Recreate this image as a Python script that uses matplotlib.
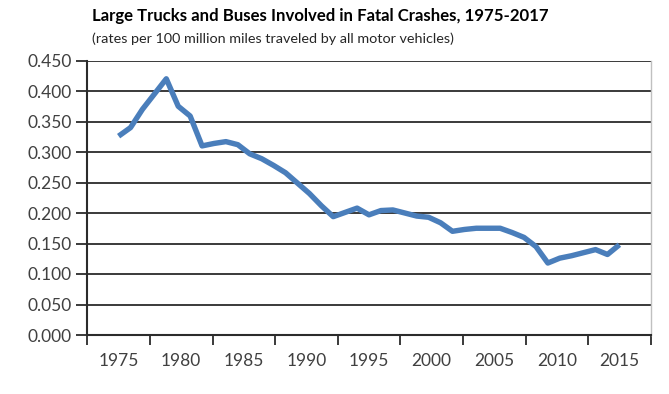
import matplotlib
matplotlib.use("Agg")
import matplotlib.pyplot as plt
import numpy as np

# ---- data ----
years = list(range(1975, 2018))
rates = [0.326, 0.340, 0.370, 0.395, 0.420, 0.375, 0.359, 0.310, 0.314, 0.317,
         0.312, 0.297, 0.289, 0.278, 0.266, 0.249, 0.232, 0.212, 0.194, 0.201,
         0.208, 0.197, 0.204, 0.205, 0.200, 0.195, 0.193, 0.184, 0.170, 0.173,
         0.175, 0.175, 0.175, 0.168, 0.160, 0.145, 0.118, 0.126, 0.130, 0.135,
         0.140, 0.132, 0.148]
x_labels = ["1975", "1980", "1985", "1990", "1995", "2000", "2005", "2010", "2015"]
y_ticks = [0.0, 0.05, 0.10, 0.15, 0.20, 0.25, 0.30, 0.35, 0.40, 0.45]
title = "Large Trucks and Buses Involved in Fatal Crashes, 1975-2017"
subtitle = "(rates per 100 million miles traveled by all motor vehicles)"

W, H = 669, 394
fig = plt.figure(figsize=(W / 100, H / 100), dpi=100)
fig.patch.set_facecolor("white")

left, right, bottom, top = 87.3, 650.7, 335.0, 60.5
ax = fig.add_axes([left / W, 1 - bottom / H, (right - left) / W, (bottom - top) / H])

x = np.array(years) - years[0]
span = x[-1] - x[0]
n = len(x_labels)
step = span / (n - 1)
centers = np.arange(n) * step
bounds = np.arange(n + 1) * step - step / 2

ax.plot(x, rates, color="#4a7ebb", lw=3.9, solid_joinstyle="round",
        solid_capstyle="butt", zorder=3)

ax.set_xlim(bounds[0], bounds[-1])
ax.set_ylim(0, 0.45)

ax.set_yticks(y_ticks)
ax.set_yticklabels([f"{v:.3f}" for v in y_ticks])
ax.yaxis.grid(True, color="#2b2b2b", lw=1.3)
ax.set_axisbelow(True)

ax.set_xticks(bounds)
ax.set_xticklabels([""] * len(bounds))
ax.set_xticks(centers, minor=True)
ax.set_xticklabels(x_labels, minor=True)

font = "Lato"
ax.tick_params(axis="x", which="major", length=7, width=1.3, color="#2b2b2b", direction="out")
ax.tick_params(axis="x", which="minor", length=0, pad=13, labelsize=12.5,
               labelcolor="#404040")
ax.tick_params(axis="y", which="major", length=8, width=1.3, color="#2b2b2b",
               pad=3, labelsize=12.5, labelcolor="#404040")
for lab in ax.get_xticklabels(minor=True) + ax.get_yticklabels():
    lab.set_family(font)

for s in ["left", "bottom"]:
    ax.spines[s].set_color("#2b2b2b")
    ax.spines[s].set_linewidth(1.5)
ax.spines["right"].set_color("#c0c0c0")
ax.spines["right"].set_linewidth(1.0)
ax.spines["top"].set_visible(False)

fig.text(92 / W, 1 - 21 / H, title, family=font, weight="bold", fontsize=12.1,
         ha="left", va="baseline", color="black")
fig.text(92 / W, 1 - 43 / H, subtitle, family=font, fontsize=10.4,
         ha="left", va="baseline", color="#262626")

fig.savefig("out.png", dpi=100, facecolor="white")
